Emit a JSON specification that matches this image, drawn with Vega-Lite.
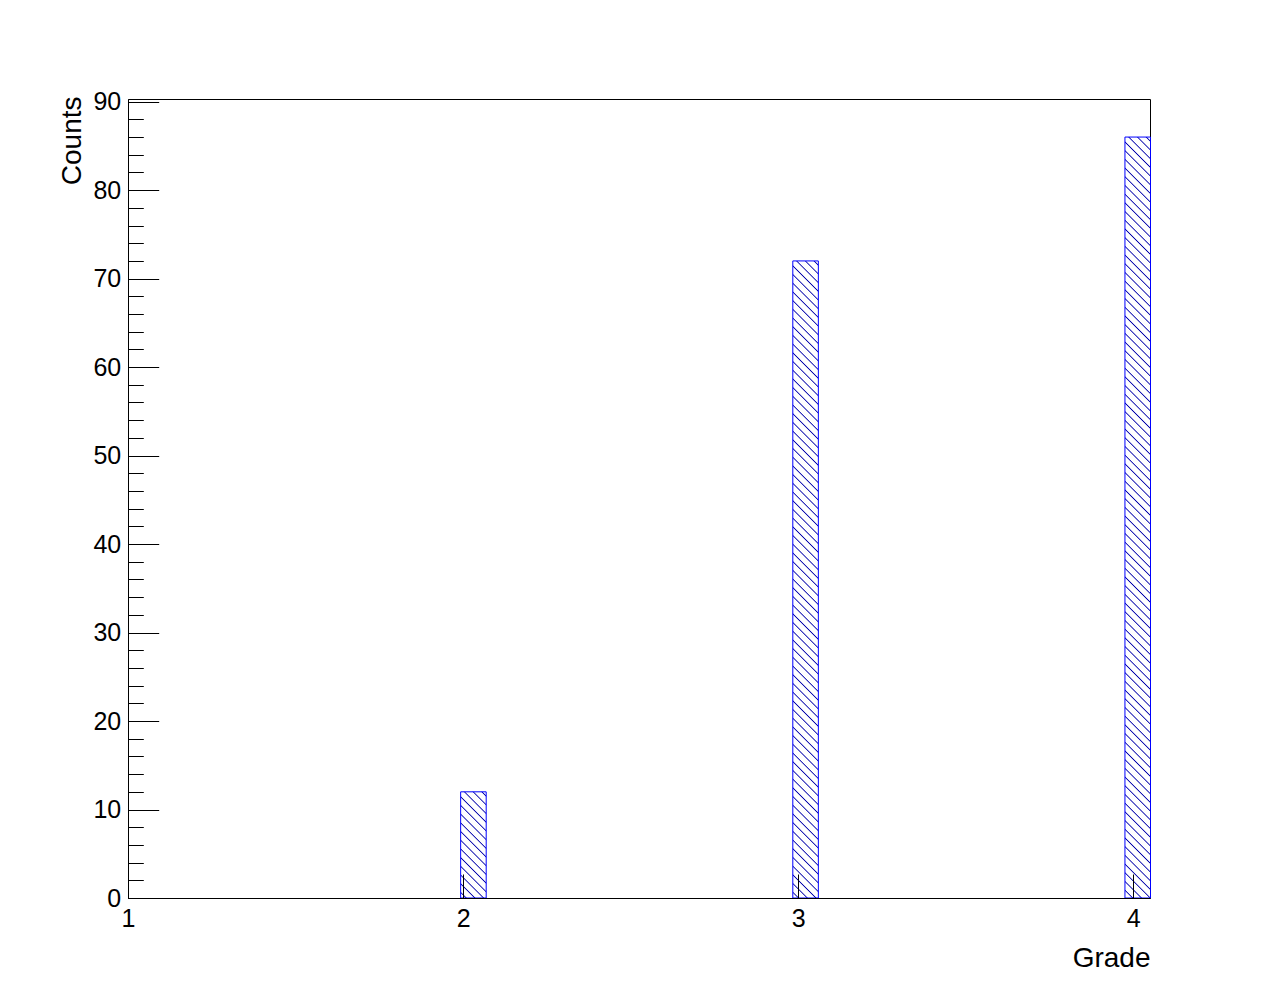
{
  "$schema": "https://vega.github.io/schema/vega-lite/v6.json",
  "width": 1022,
  "height": 799,
  "autosize": {"type": "none"},
  "padding": {"left": 128, "top": 99, "right": 128, "bottom": 100},
  "background": "white",
  "config": {
    "view": {"stroke": "black", "strokeWidth": 1},
    "axis": {
      "labelFont": "Liberation Sans", "titleFont": "Liberation Sans",
      "labelFontSize": 25, "titleFontSize": 28, "titleFontWeight": "normal",
      "labelColor": "black", "titleColor": "black", "tickColor": "black", "domainColor": "black",
      "tickWidth": 1, "domainWidth": 1, "grid": false
    }
  },
  "data": {"values": [{"grade": 2, "count": 12}, {"grade": 3, "count": 72}, {"grade": 4, "count": 86}]},
  "transform": [{"bin": {"extent": [1, 4.05], "step": 0.07625, "nice": false}, "field": "grade", "as": ["lo", "hi"]}],
  "mark": {"type": "bar", "orient": "vertical", "binSpacing": 0, "stroke": "#0000ff", "strokeWidth": 1},
  "encoding": {
    "x": {"field": "lo", "type": "quantitative", "bin": "binned",
      "scale": {"domain": [1, 4.05], "nice": false, "zero": false},
      "axis": {"values": [1, 2, 3, 4], "format": "d", "tickSize": -24, "labelPadding": 32, "labelFlush": false, "labelOverlap": false,
        "title": "Grade", "titleAlign": "right", "titleAnchor": "end", "titleX": 1022, "titleY": 68, "titleBaseline": "alphabetic", "zindex": 1}},
    "x2": {"field": "hi"},
    "y": {"field": "count", "type": "quantitative",
      "scale": {"domain": [0, 90.3], "nice": false},
      "axis": {"values": [0,2,4,6,8,10,12,14,16,18,20,22,24,26,28,30,32,34,36,38,40,42,44,46,48,50,52,54,56,58,60,62,64,66,68,70,72,74,76,78,80,82,84,86,88,90],
        "labelExpr": "datum.value % 10 === 0 ? datum.label : ''", "format": "d",
        "tickSize": -30.7, "labelPadding": 38, "labelOverlap": false, "labelFlush": false,
        "tickDash": {"condition": {"test": "datum.value % 10 === 0", "value": []}, "value": [15.3, 200]},
        "title": "Counts", "titleAngle": -90, "titleAlign": "right", "titleBaseline": "alphabetic", "titleX": -48, "titleY": -3, "zindex": 1}},
    "fill": {
      "condition": [
        {"test": "datum.grade === 2", "value": {"gradient": "linear", "x1": 1, "y1": 0, "x2": -0.86375, "y2": 7.74526, "stops": [
{"offset":0.0036,"color":"#fff"},{"offset":0.005,"color":"#00a"},{"offset":0.0064,"color":"#fff"},
{"offset":0.0136,"color":"#fff"},{"offset":0.015,"color":"#00a"},{"offset":0.0164,"color":"#fff"},
{"offset":0.0236,"color":"#fff"},{"offset":0.025,"color":"#00a"},{"offset":0.0264,"color":"#fff"},
{"offset":0.0336,"color":"#fff"},{"offset":0.035,"color":"#00a"},{"offset":0.0364,"color":"#fff"},
{"offset":0.0436,"color":"#fff"},{"offset":0.045,"color":"#00a"},{"offset":0.0464,"color":"#fff"},
{"offset":0.0536,"color":"#fff"},{"offset":0.055,"color":"#00a"},{"offset":0.0564,"color":"#fff"},
{"offset":0.0636,"color":"#fff"},{"offset":0.065,"color":"#00a"},{"offset":0.0664,"color":"#fff"},
{"offset":0.0736,"color":"#fff"},{"offset":0.075,"color":"#00a"},{"offset":0.0764,"color":"#fff"},
{"offset":0.0836,"color":"#fff"},{"offset":0.085,"color":"#00a"},{"offset":0.0864,"color":"#fff"},
{"offset":0.0936,"color":"#fff"},{"offset":0.095,"color":"#00a"},{"offset":0.0964,"color":"#fff"},
{"offset":0.1036,"color":"#fff"},{"offset":0.105,"color":"#00a"},{"offset":0.1064,"color":"#fff"},
{"offset":0.1136,"color":"#fff"},{"offset":0.115,"color":"#00a"},{"offset":0.1164,"color":"#fff"},
{"offset":0.1236,"color":"#fff"},{"offset":0.125,"color":"#00a"},{"offset":0.1264,"color":"#fff"},
{"offset":0.1336,"color":"#fff"},{"offset":0.135,"color":"#00a"},{"offset":0.1364,"color":"#fff"},
{"offset":0.1436,"color":"#fff"},{"offset":0.145,"color":"#00a"},{"offset":0.1464,"color":"#fff"},
{"offset":0.1536,"color":"#fff"},{"offset":0.155,"color":"#00a"},{"offset":0.1564,"color":"#fff"}
        ]}},
        {"test": "datum.grade === 3", "value": {"gradient": "linear", "x1": 1, "y1": 0, "x2": 0.94532, "y2": 1.36342, "stops": [
{"offset":0.0036,"color":"#fff"},{"offset":0.005,"color":"#00a"},{"offset":0.0064,"color":"#fff"},
{"offset":0.0136,"color":"#fff"},{"offset":0.015,"color":"#00a"},{"offset":0.0164,"color":"#fff"},
{"offset":0.0236,"color":"#fff"},{"offset":0.025,"color":"#00a"},{"offset":0.0264,"color":"#fff"},
{"offset":0.0336,"color":"#fff"},{"offset":0.035,"color":"#00a"},{"offset":0.0364,"color":"#fff"},
{"offset":0.0436,"color":"#fff"},{"offset":0.045,"color":"#00a"},{"offset":0.0464,"color":"#fff"},
{"offset":0.0536,"color":"#fff"},{"offset":0.055,"color":"#00a"},{"offset":0.0564,"color":"#fff"},
{"offset":0.0636,"color":"#fff"},{"offset":0.065,"color":"#00a"},{"offset":0.0664,"color":"#fff"},
{"offset":0.0736,"color":"#fff"},{"offset":0.075,"color":"#00a"},{"offset":0.0764,"color":"#fff"},
{"offset":0.0836,"color":"#fff"},{"offset":0.085,"color":"#00a"},{"offset":0.0864,"color":"#fff"},
{"offset":0.0936,"color":"#fff"},{"offset":0.095,"color":"#00a"},{"offset":0.0964,"color":"#fff"},
{"offset":0.1036,"color":"#fff"},{"offset":0.105,"color":"#00a"},{"offset":0.1064,"color":"#fff"},
{"offset":0.1136,"color":"#fff"},{"offset":0.115,"color":"#00a"},{"offset":0.1164,"color":"#fff"},
{"offset":0.1236,"color":"#fff"},{"offset":0.125,"color":"#00a"},{"offset":0.1264,"color":"#fff"},
{"offset":0.1336,"color":"#fff"},{"offset":0.135,"color":"#00a"},{"offset":0.1364,"color":"#fff"},
{"offset":0.1436,"color":"#fff"},{"offset":0.145,"color":"#00a"},{"offset":0.1464,"color":"#fff"},
{"offset":0.1536,"color":"#fff"},{"offset":0.155,"color":"#00a"},{"offset":0.1564,"color":"#fff"},
{"offset":0.1636,"color":"#fff"},{"offset":0.165,"color":"#00a"},{"offset":0.1664,"color":"#fff"},
{"offset":0.1736,"color":"#fff"},{"offset":0.175,"color":"#00a"},{"offset":0.1764,"color":"#fff"},
{"offset":0.1836,"color":"#fff"},{"offset":0.185,"color":"#00a"},{"offset":0.1864,"color":"#fff"},
{"offset":0.1936,"color":"#fff"},{"offset":0.195,"color":"#00a"},{"offset":0.1964,"color":"#fff"},
{"offset":0.2036,"color":"#fff"},{"offset":0.205,"color":"#00a"},{"offset":0.2064,"color":"#fff"},
{"offset":0.2136,"color":"#fff"},{"offset":0.215,"color":"#00a"},{"offset":0.2164,"color":"#fff"},
{"offset":0.2236,"color":"#fff"},{"offset":0.225,"color":"#00a"},{"offset":0.2264,"color":"#fff"},
{"offset":0.2336,"color":"#fff"},{"offset":0.235,"color":"#00a"},{"offset":0.2364,"color":"#fff"},
{"offset":0.2436,"color":"#fff"},{"offset":0.245,"color":"#00a"},{"offset":0.2464,"color":"#fff"},
{"offset":0.2536,"color":"#fff"},{"offset":0.255,"color":"#00a"},{"offset":0.2564,"color":"#fff"},
{"offset":0.2636,"color":"#fff"},{"offset":0.265,"color":"#00a"},{"offset":0.2664,"color":"#fff"},
{"offset":0.2736,"color":"#fff"},{"offset":0.275,"color":"#00a"},{"offset":0.2764,"color":"#fff"},
{"offset":0.2836,"color":"#fff"},{"offset":0.285,"color":"#00a"},{"offset":0.2864,"color":"#fff"},
{"offset":0.2936,"color":"#fff"},{"offset":0.295,"color":"#00a"},{"offset":0.2964,"color":"#fff"},
{"offset":0.3036,"color":"#fff"},{"offset":0.305,"color":"#00a"},{"offset":0.3064,"color":"#fff"},
{"offset":0.3136,"color":"#fff"},{"offset":0.315,"color":"#00a"},{"offset":0.3164,"color":"#fff"},
{"offset":0.3236,"color":"#fff"},{"offset":0.325,"color":"#00a"},{"offset":0.3264,"color":"#fff"},
{"offset":0.3336,"color":"#fff"},{"offset":0.335,"color":"#00a"},{"offset":0.3364,"color":"#fff"},
{"offset":0.3436,"color":"#fff"},{"offset":0.345,"color":"#00a"},{"offset":0.3464,"color":"#fff"},
{"offset":0.3536,"color":"#fff"},{"offset":0.355,"color":"#00a"},{"offset":0.3564,"color":"#fff"},
{"offset":0.3636,"color":"#fff"},{"offset":0.365,"color":"#00a"},{"offset":0.3664,"color":"#fff"},
{"offset":0.3736,"color":"#fff"},{"offset":0.375,"color":"#00a"},{"offset":0.3764,"color":"#fff"},
{"offset":0.3836,"color":"#fff"},{"offset":0.385,"color":"#00a"},{"offset":0.3864,"color":"#fff"},
{"offset":0.3936,"color":"#fff"},{"offset":0.395,"color":"#00a"},{"offset":0.3964,"color":"#fff"},
{"offset":0.4036,"color":"#fff"},{"offset":0.405,"color":"#00a"},{"offset":0.4064,"color":"#fff"},
{"offset":0.4136,"color":"#fff"},{"offset":0.415,"color":"#00a"},{"offset":0.4164,"color":"#fff"},
{"offset":0.4236,"color":"#fff"},{"offset":0.425,"color":"#00a"},{"offset":0.4264,"color":"#fff"},
{"offset":0.4336,"color":"#fff"},{"offset":0.435,"color":"#00a"},{"offset":0.4364,"color":"#fff"},
{"offset":0.4436,"color":"#fff"},{"offset":0.445,"color":"#00a"},{"offset":0.4464,"color":"#fff"},
{"offset":0.4536,"color":"#fff"},{"offset":0.455,"color":"#00a"},{"offset":0.4564,"color":"#fff"},
{"offset":0.4636,"color":"#fff"},{"offset":0.465,"color":"#00a"},{"offset":0.4664,"color":"#fff"},
{"offset":0.4736,"color":"#fff"},{"offset":0.475,"color":"#00a"},{"offset":0.4764,"color":"#fff"},
{"offset":0.4836,"color":"#fff"},{"offset":0.485,"color":"#00a"},{"offset":0.4864,"color":"#fff"},
{"offset":0.4936,"color":"#fff"},{"offset":0.495,"color":"#00a"},{"offset":0.4964,"color":"#fff"},
{"offset":0.5036,"color":"#fff"},{"offset":0.505,"color":"#00a"},{"offset":0.5064,"color":"#fff"},
{"offset":0.5136,"color":"#fff"},{"offset":0.515,"color":"#00a"},{"offset":0.5164,"color":"#fff"},
{"offset":0.5236,"color":"#fff"},{"offset":0.525,"color":"#00a"},{"offset":0.5264,"color":"#fff"},
{"offset":0.5336,"color":"#fff"},{"offset":0.535,"color":"#00a"},{"offset":0.5364,"color":"#fff"},
{"offset":0.5436,"color":"#fff"},{"offset":0.545,"color":"#00a"},{"offset":0.5464,"color":"#fff"},
{"offset":0.5536,"color":"#fff"},{"offset":0.555,"color":"#00a"},{"offset":0.5564,"color":"#fff"},
{"offset":0.5636,"color":"#fff"},{"offset":0.565,"color":"#00a"},{"offset":0.5664,"color":"#fff"},
{"offset":0.5736,"color":"#fff"},{"offset":0.575,"color":"#00a"},{"offset":0.5764,"color":"#fff"},
{"offset":0.5836,"color":"#fff"},{"offset":0.585,"color":"#00a"},{"offset":0.5864,"color":"#fff"},
{"offset":0.5936,"color":"#fff"},{"offset":0.595,"color":"#00a"},{"offset":0.5964,"color":"#fff"},
{"offset":0.6036,"color":"#fff"},{"offset":0.605,"color":"#00a"},{"offset":0.6064,"color":"#fff"},
{"offset":0.6136,"color":"#fff"},{"offset":0.615,"color":"#00a"},{"offset":0.6164,"color":"#fff"},
{"offset":0.6236,"color":"#fff"},{"offset":0.625,"color":"#00a"},{"offset":0.6264,"color":"#fff"},
{"offset":0.6336,"color":"#fff"},{"offset":0.635,"color":"#00a"},{"offset":0.6364,"color":"#fff"},
{"offset":0.6436,"color":"#fff"},{"offset":0.645,"color":"#00a"},{"offset":0.6464,"color":"#fff"},
{"offset":0.6536,"color":"#fff"},{"offset":0.655,"color":"#00a"},{"offset":0.6564,"color":"#fff"},
{"offset":0.6636,"color":"#fff"},{"offset":0.665,"color":"#00a"},{"offset":0.6664,"color":"#fff"},
{"offset":0.6736,"color":"#fff"},{"offset":0.675,"color":"#00a"},{"offset":0.6764,"color":"#fff"},
{"offset":0.6836,"color":"#fff"},{"offset":0.685,"color":"#00a"},{"offset":0.6864,"color":"#fff"},
{"offset":0.6936,"color":"#fff"},{"offset":0.695,"color":"#00a"},{"offset":0.6964,"color":"#fff"},
{"offset":0.7036,"color":"#fff"},{"offset":0.705,"color":"#00a"},{"offset":0.7064,"color":"#fff"},
{"offset":0.7136,"color":"#fff"},{"offset":0.715,"color":"#00a"},{"offset":0.7164,"color":"#fff"},
{"offset":0.7236,"color":"#fff"},{"offset":0.725,"color":"#00a"},{"offset":0.7264,"color":"#fff"},
{"offset":0.7336,"color":"#fff"},{"offset":0.735,"color":"#00a"},{"offset":0.7364,"color":"#fff"},
{"offset":0.7436,"color":"#fff"},{"offset":0.745,"color":"#00a"},{"offset":0.7464,"color":"#fff"},
{"offset":0.7536,"color":"#fff"},{"offset":0.755,"color":"#00a"},{"offset":0.7564,"color":"#fff"},
{"offset":0.7636,"color":"#fff"},{"offset":0.765,"color":"#00a"},{"offset":0.7664,"color":"#fff"}
        ]}}
      ],
      "value": {"gradient": "linear", "x1": 1, "y1": 0, "x2": 0.961655, "y2": 1.142018, "stops": [
{"offset":0.0036,"color":"#fff"},{"offset":0.005,"color":"#00a"},{"offset":0.0064,"color":"#fff"},
{"offset":0.0136,"color":"#fff"},{"offset":0.015,"color":"#00a"},{"offset":0.0164,"color":"#fff"},
{"offset":0.0236,"color":"#fff"},{"offset":0.025,"color":"#00a"},{"offset":0.0264,"color":"#fff"},
{"offset":0.0336,"color":"#fff"},{"offset":0.035,"color":"#00a"},{"offset":0.0364,"color":"#fff"},
{"offset":0.0436,"color":"#fff"},{"offset":0.045,"color":"#00a"},{"offset":0.0464,"color":"#fff"},
{"offset":0.0536,"color":"#fff"},{"offset":0.055,"color":"#00a"},{"offset":0.0564,"color":"#fff"},
{"offset":0.0636,"color":"#fff"},{"offset":0.065,"color":"#00a"},{"offset":0.0664,"color":"#fff"},
{"offset":0.0736,"color":"#fff"},{"offset":0.075,"color":"#00a"},{"offset":0.0764,"color":"#fff"},
{"offset":0.0836,"color":"#fff"},{"offset":0.085,"color":"#00a"},{"offset":0.0864,"color":"#fff"},
{"offset":0.0936,"color":"#fff"},{"offset":0.095,"color":"#00a"},{"offset":0.0964,"color":"#fff"},
{"offset":0.1036,"color":"#fff"},{"offset":0.105,"color":"#00a"},{"offset":0.1064,"color":"#fff"},
{"offset":0.1136,"color":"#fff"},{"offset":0.115,"color":"#00a"},{"offset":0.1164,"color":"#fff"},
{"offset":0.1236,"color":"#fff"},{"offset":0.125,"color":"#00a"},{"offset":0.1264,"color":"#fff"},
{"offset":0.1336,"color":"#fff"},{"offset":0.135,"color":"#00a"},{"offset":0.1364,"color":"#fff"},
{"offset":0.1436,"color":"#fff"},{"offset":0.145,"color":"#00a"},{"offset":0.1464,"color":"#fff"},
{"offset":0.1536,"color":"#fff"},{"offset":0.155,"color":"#00a"},{"offset":0.1564,"color":"#fff"},
{"offset":0.1636,"color":"#fff"},{"offset":0.165,"color":"#00a"},{"offset":0.1664,"color":"#fff"},
{"offset":0.1736,"color":"#fff"},{"offset":0.175,"color":"#00a"},{"offset":0.1764,"color":"#fff"},
{"offset":0.1836,"color":"#fff"},{"offset":0.185,"color":"#00a"},{"offset":0.1864,"color":"#fff"},
{"offset":0.1936,"color":"#fff"},{"offset":0.195,"color":"#00a"},{"offset":0.1964,"color":"#fff"},
{"offset":0.2036,"color":"#fff"},{"offset":0.205,"color":"#00a"},{"offset":0.2064,"color":"#fff"},
{"offset":0.2136,"color":"#fff"},{"offset":0.215,"color":"#00a"},{"offset":0.2164,"color":"#fff"},
{"offset":0.2236,"color":"#fff"},{"offset":0.225,"color":"#00a"},{"offset":0.2264,"color":"#fff"},
{"offset":0.2336,"color":"#fff"},{"offset":0.235,"color":"#00a"},{"offset":0.2364,"color":"#fff"},
{"offset":0.2436,"color":"#fff"},{"offset":0.245,"color":"#00a"},{"offset":0.2464,"color":"#fff"},
{"offset":0.2536,"color":"#fff"},{"offset":0.255,"color":"#00a"},{"offset":0.2564,"color":"#fff"},
{"offset":0.2636,"color":"#fff"},{"offset":0.265,"color":"#00a"},{"offset":0.2664,"color":"#fff"},
{"offset":0.2736,"color":"#fff"},{"offset":0.275,"color":"#00a"},{"offset":0.2764,"color":"#fff"},
{"offset":0.2836,"color":"#fff"},{"offset":0.285,"color":"#00a"},{"offset":0.2864,"color":"#fff"},
{"offset":0.2936,"color":"#fff"},{"offset":0.295,"color":"#00a"},{"offset":0.2964,"color":"#fff"},
{"offset":0.3036,"color":"#fff"},{"offset":0.305,"color":"#00a"},{"offset":0.3064,"color":"#fff"},
{"offset":0.3136,"color":"#fff"},{"offset":0.315,"color":"#00a"},{"offset":0.3164,"color":"#fff"},
{"offset":0.3236,"color":"#fff"},{"offset":0.325,"color":"#00a"},{"offset":0.3264,"color":"#fff"},
{"offset":0.3336,"color":"#fff"},{"offset":0.335,"color":"#00a"},{"offset":0.3364,"color":"#fff"},
{"offset":0.3436,"color":"#fff"},{"offset":0.345,"color":"#00a"},{"offset":0.3464,"color":"#fff"},
{"offset":0.3536,"color":"#fff"},{"offset":0.355,"color":"#00a"},{"offset":0.3564,"color":"#fff"},
{"offset":0.3636,"color":"#fff"},{"offset":0.365,"color":"#00a"},{"offset":0.3664,"color":"#fff"},
{"offset":0.3736,"color":"#fff"},{"offset":0.375,"color":"#00a"},{"offset":0.3764,"color":"#fff"},
{"offset":0.3836,"color":"#fff"},{"offset":0.385,"color":"#00a"},{"offset":0.3864,"color":"#fff"},
{"offset":0.3936,"color":"#fff"},{"offset":0.395,"color":"#00a"},{"offset":0.3964,"color":"#fff"},
{"offset":0.4036,"color":"#fff"},{"offset":0.405,"color":"#00a"},{"offset":0.4064,"color":"#fff"},
{"offset":0.4136,"color":"#fff"},{"offset":0.415,"color":"#00a"},{"offset":0.4164,"color":"#fff"},
{"offset":0.4236,"color":"#fff"},{"offset":0.425,"color":"#00a"},{"offset":0.4264,"color":"#fff"},
{"offset":0.4336,"color":"#fff"},{"offset":0.435,"color":"#00a"},{"offset":0.4364,"color":"#fff"},
{"offset":0.4436,"color":"#fff"},{"offset":0.445,"color":"#00a"},{"offset":0.4464,"color":"#fff"},
{"offset":0.4536,"color":"#fff"},{"offset":0.455,"color":"#00a"},{"offset":0.4564,"color":"#fff"},
{"offset":0.4636,"color":"#fff"},{"offset":0.465,"color":"#00a"},{"offset":0.4664,"color":"#fff"},
{"offset":0.4736,"color":"#fff"},{"offset":0.475,"color":"#00a"},{"offset":0.4764,"color":"#fff"},
{"offset":0.4836,"color":"#fff"},{"offset":0.485,"color":"#00a"},{"offset":0.4864,"color":"#fff"},
{"offset":0.4936,"color":"#fff"},{"offset":0.495,"color":"#00a"},{"offset":0.4964,"color":"#fff"},
{"offset":0.5036,"color":"#fff"},{"offset":0.505,"color":"#00a"},{"offset":0.5064,"color":"#fff"},
{"offset":0.5136,"color":"#fff"},{"offset":0.515,"color":"#00a"},{"offset":0.5164,"color":"#fff"},
{"offset":0.5236,"color":"#fff"},{"offset":0.525,"color":"#00a"},{"offset":0.5264,"color":"#fff"},
{"offset":0.5336,"color":"#fff"},{"offset":0.535,"color":"#00a"},{"offset":0.5364,"color":"#fff"},
{"offset":0.5436,"color":"#fff"},{"offset":0.545,"color":"#00a"},{"offset":0.5464,"color":"#fff"},
{"offset":0.5536,"color":"#fff"},{"offset":0.555,"color":"#00a"},{"offset":0.5564,"color":"#fff"},
{"offset":0.5636,"color":"#fff"},{"offset":0.565,"color":"#00a"},{"offset":0.5664,"color":"#fff"},
{"offset":0.5736,"color":"#fff"},{"offset":0.575,"color":"#00a"},{"offset":0.5764,"color":"#fff"},
{"offset":0.5836,"color":"#fff"},{"offset":0.585,"color":"#00a"},{"offset":0.5864,"color":"#fff"},
{"offset":0.5936,"color":"#fff"},{"offset":0.595,"color":"#00a"},{"offset":0.5964,"color":"#fff"},
{"offset":0.6036,"color":"#fff"},{"offset":0.605,"color":"#00a"},{"offset":0.6064,"color":"#fff"},
{"offset":0.6136,"color":"#fff"},{"offset":0.615,"color":"#00a"},{"offset":0.6164,"color":"#fff"},
{"offset":0.6236,"color":"#fff"},{"offset":0.625,"color":"#00a"},{"offset":0.6264,"color":"#fff"},
{"offset":0.6336,"color":"#fff"},{"offset":0.635,"color":"#00a"},{"offset":0.6364,"color":"#fff"},
{"offset":0.6436,"color":"#fff"},{"offset":0.645,"color":"#00a"},{"offset":0.6464,"color":"#fff"},
{"offset":0.6536,"color":"#fff"},{"offset":0.655,"color":"#00a"},{"offset":0.6564,"color":"#fff"},
{"offset":0.6636,"color":"#fff"},{"offset":0.665,"color":"#00a"},{"offset":0.6664,"color":"#fff"},
{"offset":0.6736,"color":"#fff"},{"offset":0.675,"color":"#00a"},{"offset":0.6764,"color":"#fff"},
{"offset":0.6836,"color":"#fff"},{"offset":0.685,"color":"#00a"},{"offset":0.6864,"color":"#fff"},
{"offset":0.6936,"color":"#fff"},{"offset":0.695,"color":"#00a"},{"offset":0.6964,"color":"#fff"},
{"offset":0.7036,"color":"#fff"},{"offset":0.705,"color":"#00a"},{"offset":0.7064,"color":"#fff"},
{"offset":0.7136,"color":"#fff"},{"offset":0.715,"color":"#00a"},{"offset":0.7164,"color":"#fff"},
{"offset":0.7236,"color":"#fff"},{"offset":0.725,"color":"#00a"},{"offset":0.7264,"color":"#fff"},
{"offset":0.7336,"color":"#fff"},{"offset":0.735,"color":"#00a"},{"offset":0.7364,"color":"#fff"},
{"offset":0.7436,"color":"#fff"},{"offset":0.745,"color":"#00a"},{"offset":0.7464,"color":"#fff"},
{"offset":0.7536,"color":"#fff"},{"offset":0.755,"color":"#00a"},{"offset":0.7564,"color":"#fff"},
{"offset":0.7636,"color":"#fff"},{"offset":0.765,"color":"#00a"},{"offset":0.7664,"color":"#fff"},
{"offset":0.7736,"color":"#fff"},{"offset":0.775,"color":"#00a"},{"offset":0.7764,"color":"#fff"},
{"offset":0.7836,"color":"#fff"},{"offset":0.785,"color":"#00a"},{"offset":0.7864,"color":"#fff"},
{"offset":0.7936,"color":"#fff"},{"offset":0.795,"color":"#00a"},{"offset":0.7964,"color":"#fff"},
{"offset":0.8036,"color":"#fff"},{"offset":0.805,"color":"#00a"},{"offset":0.8064,"color":"#fff"},
{"offset":0.8136,"color":"#fff"},{"offset":0.815,"color":"#00a"},{"offset":0.8164,"color":"#fff"},
{"offset":0.8236,"color":"#fff"},{"offset":0.825,"color":"#00a"},{"offset":0.8264,"color":"#fff"},
{"offset":0.8336,"color":"#fff"},{"offset":0.835,"color":"#00a"},{"offset":0.8364,"color":"#fff"},
{"offset":0.8436,"color":"#fff"},{"offset":0.845,"color":"#00a"},{"offset":0.8464,"color":"#fff"},
{"offset":0.8536,"color":"#fff"},{"offset":0.855,"color":"#00a"},{"offset":0.8564,"color":"#fff"},
{"offset":0.8636,"color":"#fff"},{"offset":0.865,"color":"#00a"},{"offset":0.8664,"color":"#fff"},
{"offset":0.8736,"color":"#fff"},{"offset":0.875,"color":"#00a"},{"offset":0.8764,"color":"#fff"},
{"offset":0.8836,"color":"#fff"},{"offset":0.885,"color":"#00a"},{"offset":0.8864,"color":"#fff"},
{"offset":0.8936,"color":"#fff"},{"offset":0.895,"color":"#00a"},{"offset":0.8964,"color":"#fff"},
{"offset":0.9036,"color":"#fff"},{"offset":0.905,"color":"#00a"},{"offset":0.9064,"color":"#fff"}
      ]}
    }
  }
}
